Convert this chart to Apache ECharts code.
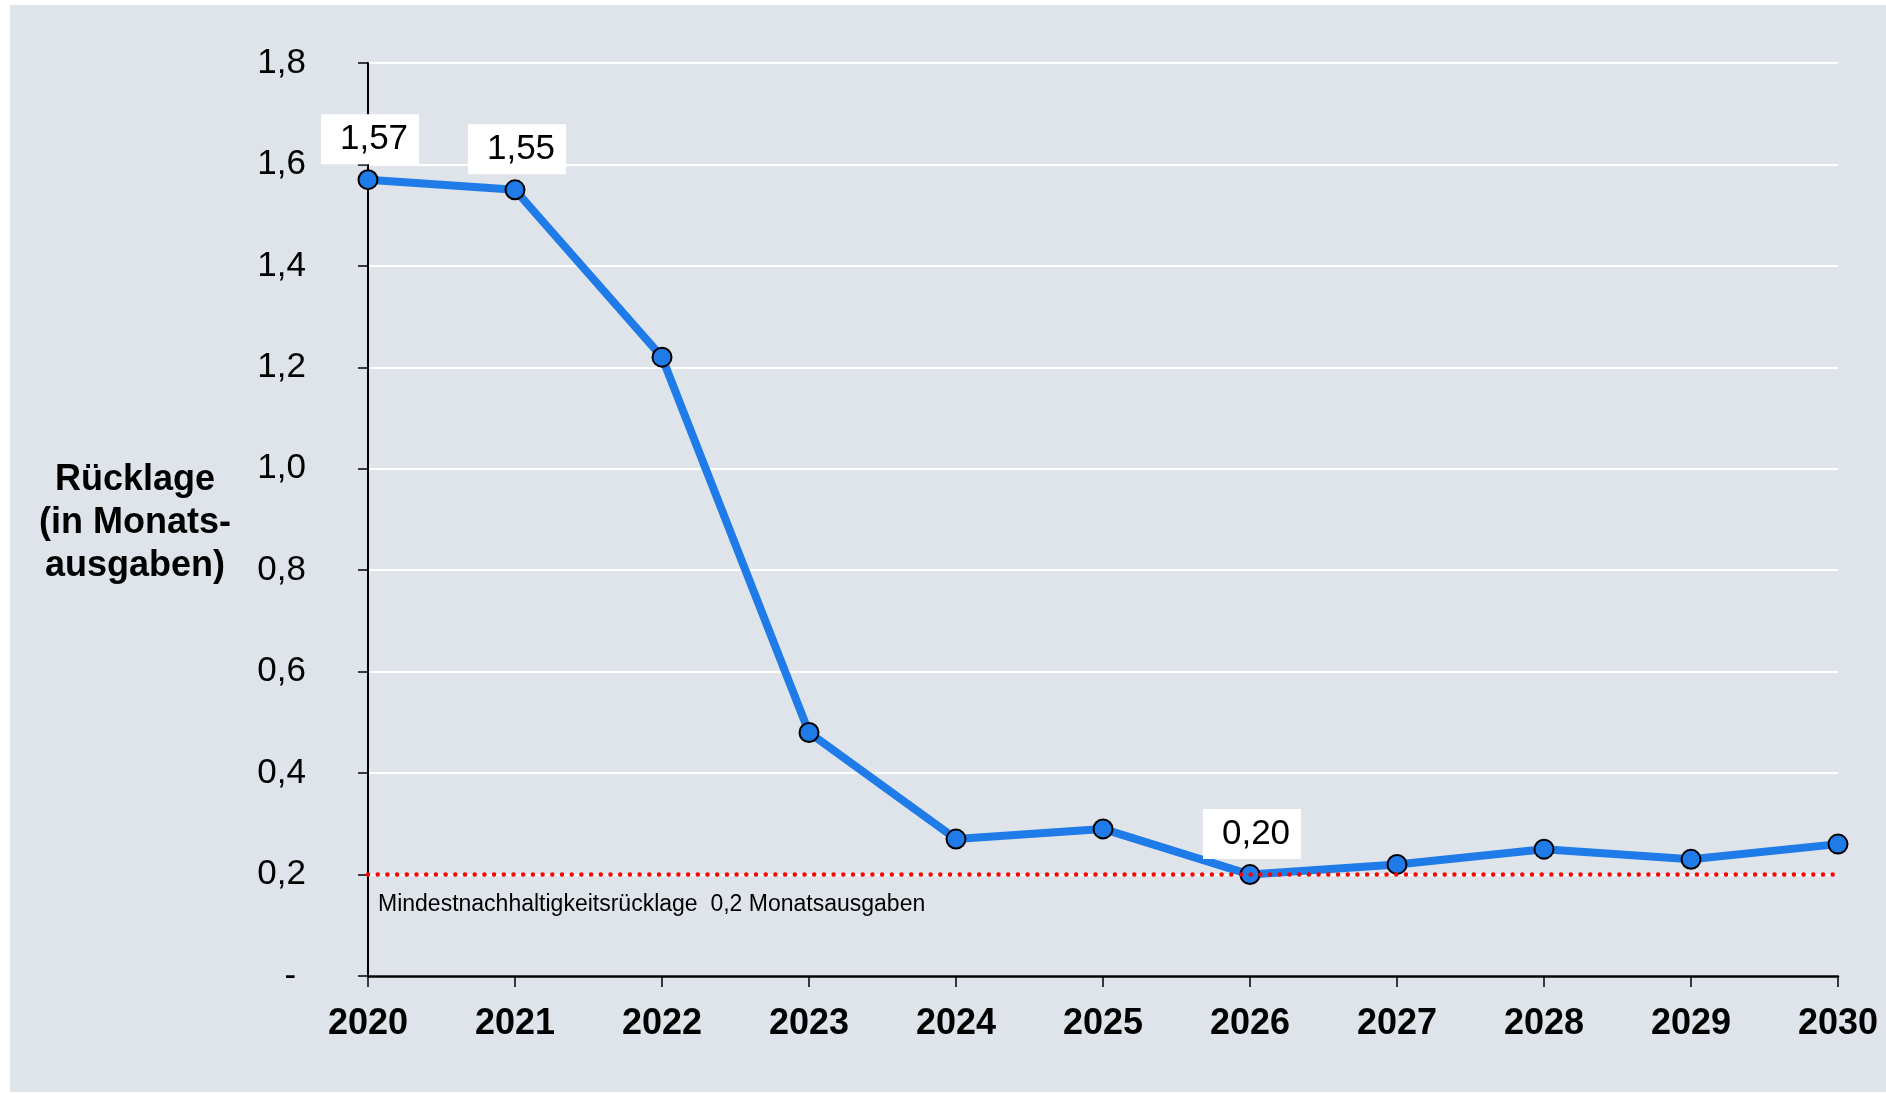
<!DOCTYPE html>
<html>
<head>
<meta charset="utf-8">
<script src="https://cdn.jsdelivr.net/npm/echarts@6/dist/echarts.min.js"></script>
<style>
  html, body { margin: 0; padding: 0; background: #ffffff; }
  #bg { position: absolute; left: 10px; top: 5px; right: 0; bottom: 2px; background: #dfe4eb; }
  #chart { position: absolute; left: 0; top: 0; width: 1886px; height: 1094px; }
</style>
</head>
<body>
<div id="bg"></div>
<div id="chart"></div>
<script>
  // Jahre und Rücklage in Monatsausgaben
  const years = ['2020', '2021', '2022', '2023', '2024', '2025', '2026', '2027', '2028', '2029', '2030'];
  const reserve = [1.57, 1.55, 1.22, 0.48, 0.27, 0.29, 0.20, 0.22, 0.25, 0.23, 0.26];
  const labeledYears = ['2020', '2021', '2026'];
  const minReserve = 0.2;
  const minReserveText = 'Mindestnachhaltigkeitsrücklage  0,2 Monatsausgaben';

  const font = "'Liberation Sans', Arial, sans-serif";
  const deComma = (v, d) => v.toFixed(d).replace('.', ',');

  const seriesData = reserve.map(function (v, i) {
    if (labeledYears.indexOf(years[i]) < 0) return v;
    return {
      value: v,
      label: {
        show: true,
        position: 'top',
        distance: 5,
        offset: [2, 0],
        formatter: function (p) { return deComma(p.value, 2); },
        backgroundColor: '#ffffff',
        padding: [8, 11, 7, 19],
        color: '#000',
        fontSize: 35,
        fontFamily: font
      }
    };
  });

  const myChart = echarts.init(document.getElementById('chart'));
  const option = {
    backgroundColor: 'transparent',
    animation: false,
    title: {
      text: 'Rücklage\n(in Monats-\nausgaben)',
      left: 135,
      top: 459,
      textAlign: 'center',
      padding: 0,
      textStyle: { color: '#000', fontSize: 36, fontWeight: 'bold', fontFamily: font, lineHeight: 43 }
    },
    grid: { left: 368, right: 48, top: 63, bottom: 118 },
    xAxis: {
      type: 'category',
      data: years,
      boundaryGap: false,
      axisLine: { lineStyle: { color: '#000', width: 2.5 } },
      axisTick: { show: true, length: 11, lineStyle: { color: '#000', width: 1.5 } },
      axisLabel: { color: '#000', fontSize: 36, fontWeight: 'bold', fontFamily: font, margin: 30 },
      splitLine: { show: false }
    },
    yAxis: {
      type: 'value',
      min: 0,
      max: 1.8,
      interval: 0.2,
      axisLine: { show: true, lineStyle: { color: '#000', width: 2 } },
      axisTick: { show: true, length: 10, lineStyle: { color: '#000', width: 1.5 } },
      axisLabel: {
        color: '#000', fontSize: 35, fontFamily: font, margin: 62,
        formatter: function (v) { return v === 0 ? '- ' : deComma(v, 1); }
      },
      splitLine: { show: true, lineStyle: { color: '#ffffff', width: 2 } }
    },
    series: [
      {
        type: 'line',
        data: seriesData,
        symbol: 'circle',
        symbolSize: 19,
        z: 3,
        lineStyle: { color: '#1f7be8', width: 8 },
        itemStyle: { color: '#1f7be8', borderColor: '#000', borderWidth: 2 },
        markLine: {
          silent: true,
          symbol: ['none', 'none'],
          z: 5,
          data: [{ yAxis: minReserve }],
          lineStyle: { color: '#ff0000', width: 4.5, type: [0, 9.7], cap: 'round' },
          label: {
            show: true,
            position: 'insideStartBottom',
            distance: [10, 19],
            formatter: minReserveText,
            color: '#000',
            fontSize: 23,
            fontFamily: font
          }
        }
      }
    ]
  };
  myChart.setOption(option);
</script>
</body>
</html>
